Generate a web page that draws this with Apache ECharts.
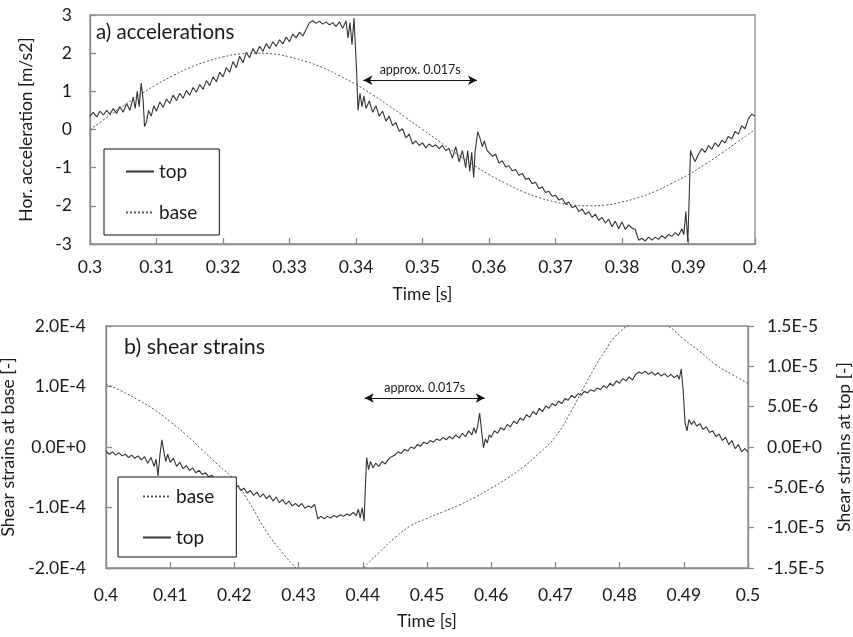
<!DOCTYPE html>
<html><head><meta charset="utf-8">
<script src="https://cdn.jsdelivr.net/npm/echarts@6/dist/echarts.min.js"></script>
<style>html,body{margin:0;padding:0;background:#fff}#c{width:853px;height:637px}</style>
</head><body><div id="c"></div><script>
// ---------- data (a) accelerations, [time s, m/s2] ----------
const accTop = [
[0.3000,0.35],[0.3005,0.45],[0.3010,0.33],[0.3015,0.48],[0.3020,0.38],[0.3025,0.50],[0.3030,0.40],[0.3035,0.55],[0.3040,0.42],[0.3045,0.60],
[0.3050,0.45],[0.3055,0.68],[0.3060,0.50],[0.3065,0.85],[0.3068,0.55],[0.3071,1.00],[0.3074,0.60],[0.3077,1.22],[0.3080,0.75],[0.3082,0.08],
[0.3085,0.20],[0.3088,0.50],[0.3092,0.35],[0.3096,0.62],[0.3100,0.48],[0.3105,0.72],[0.3110,0.58],[0.3115,0.80],[0.3120,0.68],[0.3125,0.90],
[0.3130,0.76],[0.3135,0.95],[0.3140,0.82],[0.3145,1.02],[0.3150,0.90],[0.3155,1.10],[0.3160,0.98],[0.3165,1.18],[0.3170,1.05],[0.3175,1.28],
[0.3180,1.15],[0.3185,1.38],[0.3190,1.25],[0.3195,1.50],[0.3200,1.38],[0.3205,1.62],[0.3210,1.50],[0.3215,1.78],[0.3220,1.62],[0.3225,1.92],
[0.3230,1.75],[0.3235,2.02],[0.3240,1.88],[0.3245,2.12],[0.3250,1.98],[0.3255,2.18],[0.3260,2.05],[0.3265,2.25],[0.3270,2.12],[0.3275,2.30],
[0.3280,2.18],[0.3285,2.35],[0.3290,2.25],[0.3295,2.42],[0.3300,2.30],[0.3305,2.50],[0.3310,2.40],[0.3315,2.55],[0.3320,2.45],[0.3325,2.62],
[0.3330,2.80],[0.3335,2.85],[0.3340,2.78],[0.3345,2.84],[0.3350,2.76],[0.3355,2.82],[0.3360,2.74],[0.3365,2.80],[0.3370,2.70],[0.3375,2.82],
[0.3380,2.65],[0.3385,2.85],[0.3388,2.40],[0.3391,2.80],[0.3394,2.22],[0.3397,2.92],[0.3399,2.95],[0.3401,1.50],[0.3403,0.50],[0.3406,0.95],
[0.3409,0.60],[0.3412,0.88],[0.3415,0.55],[0.3420,0.75],[0.3425,0.45],[0.3430,0.62],[0.3435,0.35],[0.3440,0.48],[0.3445,0.22],[0.3450,0.35],
[0.3455,0.10],[0.3460,0.18],[0.3465,-0.05],[0.3470,0.02],[0.3475,-0.22],[0.3480,-0.12],[0.3485,-0.38],[0.3490,-0.30],[0.3495,-0.42],[0.3500,-0.35],
[0.3505,-0.48],[0.3510,-0.38],[0.3515,-0.45],[0.3520,-0.40],[0.3525,-0.50],[0.3530,-0.42],[0.3535,-0.55],[0.3540,-0.50],[0.3545,-0.75],[0.3550,-0.45],
[0.3555,-0.85],[0.3560,-0.55],[0.3565,-1.00],[0.3568,-0.55],[0.3571,-1.10],[0.3574,-0.60],[0.3577,-1.26],[0.3579,-0.60],[0.3583,-0.06],[0.3586,-0.20],
[0.3590,-0.45],[0.3593,-0.30],[0.3597,-0.55],[0.3600,-0.50],[0.3605,-0.70],[0.3610,-0.65],[0.3615,-0.88],[0.3620,-0.82],[0.3625,-0.98],[0.3630,-0.95],
[0.3635,-1.08],[0.3640,-1.05],[0.3645,-1.20],[0.3650,-1.15],[0.3655,-1.30],[0.3660,-1.28],[0.3665,-1.42],[0.3670,-1.38],[0.3675,-1.55],[0.3680,-1.50],
[0.3685,-1.65],[0.3690,-1.62],[0.3695,-1.75],[0.3700,-1.72],[0.3705,-1.85],[0.3710,-1.80],[0.3715,-1.95],[0.3720,-1.90],[0.3725,-2.05],[0.3730,-2.00],
[0.3735,-2.15],[0.3740,-2.08],[0.3745,-2.22],[0.3750,-2.15],[0.3755,-2.30],[0.3760,-2.22],[0.3765,-2.38],[0.3770,-2.30],[0.3775,-2.45],[0.3780,-2.35],
[0.3785,-2.55],[0.3790,-2.40],[0.3795,-2.60],[0.3800,-2.42],[0.3805,-2.62],[0.3810,-2.50],[0.3815,-2.58],[0.3820,-2.62],[0.3825,-2.90],[0.3830,-2.85],
[0.3835,-2.92],[0.3840,-2.82],[0.3845,-2.90],[0.3850,-2.82],[0.3855,-2.88],[0.3860,-2.78],[0.3865,-2.85],[0.3870,-2.75],[0.3875,-2.80],[0.3880,-2.70],
[0.3885,-2.78],[0.3890,-2.60],[0.3893,-2.75],[0.3896,-2.15],[0.3899,-2.95],[0.3901,-1.80],[0.3903,-0.55],[0.3906,-0.70],[0.3910,-0.84],[0.3915,-0.65],
[0.3920,-0.50],[0.3925,-0.60],[0.3930,-0.42],[0.3935,-0.52],[0.3940,-0.35],[0.3945,-0.45],[0.3950,-0.28],[0.3955,-0.35],[0.3960,-0.18],[0.3965,-0.25],
[0.3970,-0.05],[0.3975,-0.12],[0.3980,0.10],[0.3985,0.02],[0.3990,0.28],[0.3995,0.40],[0.4000,0.35]
];
const accBase = [
[0.3000,0.00],[0.3025,0.31],[0.3050,0.62],[0.3075,0.91],[0.3100,1.18],[0.3125,1.41],[0.3150,1.62],[0.3175,1.78],[0.3200,1.90],[0.3225,1.98],
[0.3250,2.00],[0.3275,1.98],[0.3300,1.90],[0.3325,1.78],[0.3350,1.62],[0.3375,1.41],[0.3400,1.18],[0.3425,0.91],[0.3450,0.62],[0.3475,0.31],
[0.3500,0.00],[0.3525,-0.31],[0.3550,-0.62],[0.3575,-0.91],[0.3600,-1.18],[0.3625,-1.41],[0.3650,-1.62],[0.3675,-1.78],[0.3700,-1.90],[0.3725,-1.98],
[0.3750,-2.00],[0.3775,-1.98],[0.3800,-1.90],[0.3825,-1.78],[0.3850,-1.62],[0.3875,-1.41],[0.3900,-1.18],[0.3925,-0.91],[0.3950,-0.62],[0.3975,-0.31],
[0.4000,0.00]
];
// ---------- data (b) shear strains ----------
// base: units of 1E-4 (left axis)
const strainBase = [
[0.4000,1.04],[0.4025,0.92],[0.4050,0.78],[0.4075,0.62],[0.4100,0.42],[0.4125,0.20],[0.4150,-0.05],[0.4175,-0.30],[0.4200,-0.55],[0.4225,-0.95],
[0.4250,-1.40],[0.4275,-1.75],[0.4300,-2.05],[0.4325,-2.35],[0.4350,-2.50],[0.4375,-2.40],[0.4400,-2.02],[0.4425,-1.75],[0.4450,-1.50],[0.4475,-1.30],
[0.4500,-1.18],[0.4525,-1.07],[0.4550,-0.96],[0.4575,-0.83],[0.4600,-0.68],[0.4625,-0.52],[0.4650,-0.33],[0.4675,-0.10],[0.4700,0.17],[0.4725,0.60],
[0.4750,1.10],[0.4775,1.55],[0.4800,1.90],[0.4825,2.05],[0.4850,2.10],[0.4875,2.00],[0.4900,1.78],[0.4925,1.58],[0.4950,1.36],[0.4975,1.20],
[0.5000,1.05]
];
// top: units of 1E-6 (right axis)
const strainTop = [
[0.4000,-0.5],[0.4005,-0.9],[0.4010,-0.6],[0.4015,-1.0],[0.4020,-0.7],[0.4025,-1.1],[0.4030,-0.9],[0.4035,-1.3],[0.4040,-1.0],[0.4045,-1.4],
[0.4050,-1.1],[0.4055,-1.6],[0.4060,-1.2],[0.4065,-2.0],[0.4070,-1.3],[0.4075,-2.4],[0.4078,-1.5],[0.4081,-3.6],[0.4084,-1.0],[0.4087,0.9],
[0.4090,-0.5],[0.4093,-1.8],[0.4096,-0.9],[0.4100,-1.9],[0.4105,-1.4],[0.4110,-2.4],[0.4115,-1.9],[0.4120,-2.7],[0.4125,-2.3],[0.4130,-2.9],
[0.4135,-2.6],[0.4140,-3.2],[0.4145,-2.9],[0.4150,-3.4],[0.4155,-3.2],[0.4160,-3.7],[0.4165,-3.5],[0.4170,-4.0],[0.4175,-3.8],[0.4180,-4.3],
[0.4185,-4.1],[0.4190,-4.7],[0.4195,-4.5],[0.4200,-5.1],[0.4205,-4.8],[0.4210,-5.4],[0.4215,-5.1],[0.4220,-5.7],[0.4225,-5.4],[0.4230,-6.0],
[0.4235,-5.6],[0.4240,-6.2],[0.4245,-5.8],[0.4250,-6.4],[0.4255,-6.0],[0.4260,-6.7],[0.4265,-6.2],[0.4270,-6.9],[0.4275,-6.5],[0.4280,-7.1],
[0.4285,-6.7],[0.4290,-7.3],[0.4295,-7.0],[0.4300,-7.4],[0.4305,-7.0],[0.4310,-7.6],[0.4315,-7.3],[0.4320,-7.5],[0.4325,-7.1],[0.4330,-8.9],
[0.4335,-8.6],[0.4340,-8.9],[0.4345,-8.6],[0.4350,-8.8],[0.4355,-8.5],[0.4360,-8.7],[0.4365,-8.4],[0.4370,-8.6],[0.4375,-8.3],[0.4380,-8.5],
[0.4385,-8.1],[0.4390,-8.5],[0.4393,-7.7],[0.4396,-8.8],[0.4399,-7.5],[0.4402,-9.2],[0.4404,-5.0],[0.4406,-1.3],[0.4409,-2.8],[0.4412,-1.8],
[0.4416,-2.6],[0.4420,-2.0],[0.4425,-2.4],[0.4430,-1.8],[0.4435,-2.1],[0.4440,-1.5],[0.4445,-1.2],[0.4450,-1.0],[0.4455,-0.6],[0.4460,-0.8],
[0.4465,-0.3],[0.4470,-0.5],[0.4475,0.0],[0.4480,-0.2],[0.4485,0.3],[0.4490,0.1],[0.4495,0.6],[0.4500,0.4],[0.4505,0.8],[0.4510,0.6],
[0.4515,1.0],[0.4520,0.8],[0.4525,1.2],[0.4530,0.9],[0.4535,1.3],[0.4540,1.0],[0.4545,1.5],[0.4550,1.1],[0.4555,1.7],[0.4560,1.3],
[0.4565,2.0],[0.4570,1.5],[0.4573,2.4],[0.4576,1.7],[0.4579,2.6],[0.4582,4.2],[0.4585,2.0],[0.4588,-0.1],[0.4591,1.0],[0.4594,0.5],
[0.4597,1.5],[0.4600,1.2],[0.4605,2.0],[0.4610,1.7],[0.4615,2.4],[0.4620,2.1],[0.4625,2.8],[0.4630,2.5],[0.4635,3.2],[0.4640,2.9],
[0.4645,3.6],[0.4650,3.3],[0.4655,4.0],[0.4660,3.7],[0.4665,4.4],[0.4670,4.0],[0.4675,4.8],[0.4680,4.4],[0.4685,5.1],[0.4690,4.8],
[0.4695,5.4],[0.4700,5.1],[0.4705,5.7],[0.4710,5.4],[0.4715,6.0],[0.4720,5.8],[0.4725,6.4],[0.4730,6.1],[0.4735,6.6],[0.4740,6.4],
[0.4745,6.9],[0.4750,6.7],[0.4755,7.1],[0.4760,6.9],[0.4765,7.3],[0.4770,7.1],[0.4775,7.6],[0.4780,7.3],[0.4785,7.9],[0.4790,7.6],
[0.4795,8.2],[0.4800,7.9],[0.4805,8.5],[0.4810,8.2],[0.4815,8.7],[0.4820,8.3],[0.4825,9.0],[0.4830,9.3],[0.4835,9.1],[0.4840,9.4],
[0.4845,9.0],[0.4850,9.3],[0.4855,8.9],[0.4860,9.2],[0.4865,8.8],[0.4870,9.1],[0.4875,8.7],[0.4880,9.0],[0.4885,8.6],[0.4890,8.9],
[0.4893,8.4],[0.4896,9.7],[0.4899,7.0],[0.4902,3.0],[0.4905,2.0],[0.4908,3.4],[0.4912,2.8],[0.4916,3.2],[0.4920,2.6],[0.4925,2.9],
[0.4930,2.2],[0.4935,2.5],[0.4940,1.8],[0.4945,2.0],[0.4950,1.3],[0.4955,1.6],[0.4960,0.8],[0.4965,1.2],[0.4970,0.3],[0.4975,0.8],
[0.4980,-0.2],[0.4985,0.3],[0.4990,-0.6],[0.4995,-0.2],[0.5000,-0.6]
];
// annotation arrows: [start time, end time, level]
const arrowA = [0.3411, 0.3582, 1.29];
const arrowB = [0.4403, 0.4590, 0.81];
const arrowText = 'approx. 0.017s';

// ---------- chart ----------
const F = 'Lato, "Open Sans", sans-serif';
const AX = '#8a8a8a';
const TXT = '#1a1a1a';
const TS = 17.5;   // tick label size
const NS = 17.5;   // axis name size
const fmtT = v => String(+v.toFixed(3));
const fmtE = s => v => (v * s).toExponential(1).toUpperCase();

function xAx(gi, min, max, margin, gap){
  return {gridIndex:gi, type:'value', min:min, max:max, interval:0.01,
    name:'Time [s]', nameLocation:'middle', nameGap:gap,
    nameTextStyle:{fontSize:NS, color:TXT, fontFamily:F},
    axisLine:{onZero:false, lineStyle:{color:AX, width:1.3}},
    axisTick:{inside:true, length:6, lineStyle:{color:AX, width:1.3}},
    axisLabel:{margin:margin, fontSize:TS, color:TXT, fontFamily:F, formatter:fmtT},
    splitLine:{show:false}};
}
function arrowML(a){
  return {silent:true, symbol:['arrow','arrow'], symbolSize:[7,9], animation:false,
    lineStyle:{color:'#111', type:'solid', width:1},
    label:{show:true, position:'middle', formatter:arrowText, fontSize:12.5, color:TXT, fontFamily:F, distance:4},
    emphasis:{disabled:true},
    data:[[{coord:[a[0],a[2]]},{coord:[a[1],a[2]]}]]};
}
const legendCommon = {orient:'vertical', selectedMode:false, backgroundColor:'#fff',
  borderColor:'#111', borderWidth:1, itemWidth:28, itemHeight:10, itemGap:22,
  itemStyle:{opacity:0, borderWidth:0},
  textStyle:{fontSize:19, color:TXT, fontFamily:F}};

const option = {
  animation:false,
  backgroundColor:'#fff',
  textStyle:{fontFamily:F},
  title:[
    {text:'a) accelerations', left:96, top:22, padding:0, textStyle:{fontSize:20.5, fontWeight:'normal', color:TXT, fontFamily:F}},
    {text:'b) shear strains', left:124, top:336, padding:0, textStyle:{fontSize:21.5, fontWeight:'normal', color:TXT, fontFamily:F}}
  ],
  grid:[
    {left:90, top:15, width:665, height:229, show:true, borderColor:AX, borderWidth:1.3, containLabel:false, outerBoundsMode:'none'},
    {left:106, top:326, width:642, height:242, show:true, borderColor:AX, borderWidth:1.3, containLabel:false, outerBoundsMode:'none'}
  ],
  legend:[
    Object.assign({}, legendCommon, {data:['top','base'], left:104, top:149, padding:[13,22,13,21]}),
    Object.assign({}, legendCommon, {data:['base','top'], left:118, top:477, padding:[10,22,10,24]})
  ],
  xAxis:[ xAx(0, 0.3, 0.4, 14, 41), xAx(1, 0.4, 0.5, 18, 44) ],
  yAxis:[
    {gridIndex:0, type:'value', min:-3, max:3, interval:1,
     name:'Hor. acceleration [m/s2]', nameLocation:'middle', nameRotate:90, nameGap:55,
     nameTextStyle:{fontSize:NS, color:TXT, fontFamily:F},
     axisLine:{show:true, onZero:false, lineStyle:{color:AX, width:1.3}},
     axisTick:{show:true, inside:true, length:6, lineStyle:{color:AX, width:1.3}},
     axisLabel:{margin:18, fontSize:TS, color:TXT, fontFamily:F},
     splitLine:{show:false}},
    {gridIndex:1, type:'value', position:'left', min:-2, max:2, interval:1,
     name:'Shear strains at base [-]', nameLocation:'middle', nameRotate:90, nameGap:80,
     nameTextStyle:{fontSize:NS, color:TXT, fontFamily:F},
     axisLine:{show:true, onZero:false, lineStyle:{color:AX, width:1.3}},
     axisTick:{show:true, inside:true, length:6, lineStyle:{color:AX, width:1.3}},
     axisLabel:{margin:20, fontSize:TS, color:TXT, fontFamily:F, formatter:fmtE(1e-4)},
     splitLine:{show:false}},
    {gridIndex:1, type:'value', position:'right', min:-15, max:15, interval:5,
     name:'Shear strains at top [-]', nameLocation:'middle', nameRotate:90, nameGap:80,
     nameTextStyle:{fontSize:NS, color:TXT, fontFamily:F},
     axisLine:{show:true, onZero:false, lineStyle:{color:AX, width:1.3}},
     axisTick:{show:true, inside:false, length:6, lineStyle:{color:AX, width:1.3}},
     axisLabel:{margin:19, fontSize:TS, color:TXT, fontFamily:F, formatter:fmtE(1e-6)},
     splitLine:{show:false}}
  ],
  series:[
    {name:'top', type:'line', xAxisIndex:0, yAxisIndex:0, data:accTop, symbol:'none', showSymbol:false,
     silent:true, itemStyle:{color:'#333'}, lineStyle:{color:'#333', width:1.1}, emphasis:{disabled:true}, z:3},
    {name:'base', type:'line', xAxisIndex:0, yAxisIndex:0, data:accBase, smooth:true, symbol:'none', showSymbol:false,
     silent:true, itemStyle:{color:'#555'}, lineStyle:{color:'#555', width:1, type:[2,2]}, emphasis:{disabled:true}, markLine:arrowML(arrowA)},
    {name:'base', type:'line', xAxisIndex:1, yAxisIndex:1, data:strainBase, smooth:true, symbol:'none', showSymbol:false,
     silent:true, clip:true, itemStyle:{color:'#555'}, lineStyle:{color:'#555', width:1, type:[2,2]}, emphasis:{disabled:true}, markLine:arrowML(arrowB)},
    {name:'top', type:'line', xAxisIndex:1, yAxisIndex:2, data:strainTop, symbol:'none', showSymbol:false,
     silent:true, itemStyle:{color:'#333'}, lineStyle:{color:'#333', width:1.1}, emphasis:{disabled:true}, z:3}
  ]
};
const chart = echarts.init(document.getElementById('c'), null, {renderer:'canvas'});
chart.setOption(option);
</script></body></html>
